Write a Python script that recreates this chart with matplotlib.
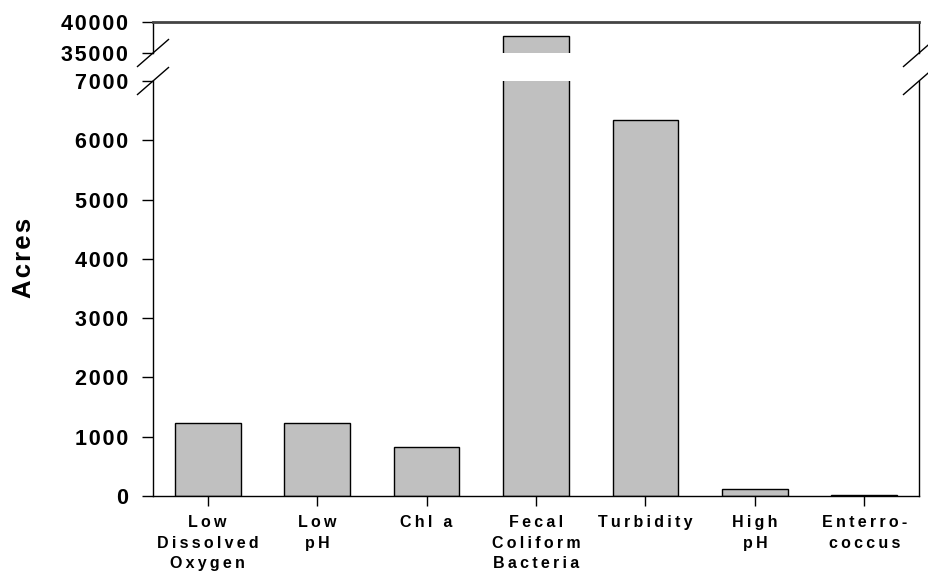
import matplotlib.pyplot as plt
from matplotlib.lines import Line2D
from matplotlib.ticker import FuncFormatter

categories = ["Low\nDissolved\nOxygen", "Low\npH", "Chl a",
              "Fecal\nColiform\nBacteria", "Turbidity", "High\npH",
              "Enterro-\ncoccus"]
acres = [1225, 1235, 820, 37700, 6350, 113, 15]

low_ticks = [0, 1000, 2000, 3000, 4000, 5000, 6000, 7000]
high_ticks = [35000, 40000]

plt.rcParams['font.family'] = 'Liberation Sans'
plt.rcParams['font.weight'] = 'bold'

THIN = '\u2009'
HAIR = '\u200a'


def spaced(text, gap):
    # loose letter spacing, line by line
    return '\n'.join(gap.join(line) for line in text.split('\n'))


W, H = 929, 572
fig = plt.figure(figsize=(W / 100, H / 100), dpi=100)

# two stacked axes make the broken y axis: 0-7000 below, 35000-40000 above
left, right = 153 / W, 919 / W
ax = fig.add_axes([left, 1 - 496 / H, right - left, (496 - 81) / H])
axt = fig.add_axes([left, 1 - 53 / H, right - left, (53 - 22) / H])

x = list(range(len(categories)))
yfmt = FuncFormatter(lambda v, pos: spaced(f'{v:.0f}', HAIR))
for a in (ax, axt):
    a.bar(x, acres, width=0.6, color='#c0c0c0', edgecolor='black', linewidth=1)
    a.set_xlim(-0.5, len(categories) - 0.5)
    for s in a.spines.values():
        s.set_linewidth(1)
    a.tick_params(axis='y', direction='out', length=8, width=1, pad=10, labelsize=15.5)
    a.yaxis.set_major_formatter(yfmt)

ax.set_ylim(0, 7000)
ax.set_yticks(low_ticks)
ax.spines['top'].set_visible(False)
ax.set_xticks(x, [spaced(c, THIN) for c in categories], fontsize=11.5, linespacing=1.45)
ax.tick_params(axis='x', direction='out', length=7, width=1, pad=7)

axt.set_ylim(35000, 40000)
axt.set_yticks(high_ticks)
axt.set_xticks([])
axt.spines['bottom'].set_visible(False)
axt.spines['top'].set_color('#444444')
axt.spines['top'].set_linewidth(2)

# break marks on both sides of the gap
for xc in (153, 919):
    for yc in (53, 81):
        fig.add_artist(Line2D([(xc - 15.5) / W, (xc + 15.5) / W],
                              [1 - (yc + 13.5) / H, 1 - (yc - 13.5) / H],
                              transform=fig.transFigure, color='black', lw=1))

fig.text(24 / W, 1 - 258 / H, spaced('Acres', HAIR), rotation=90, fontsize=18.5,
         fontweight='bold', ha='center', va='center')

fig.savefig('out.png', dpi=100)
